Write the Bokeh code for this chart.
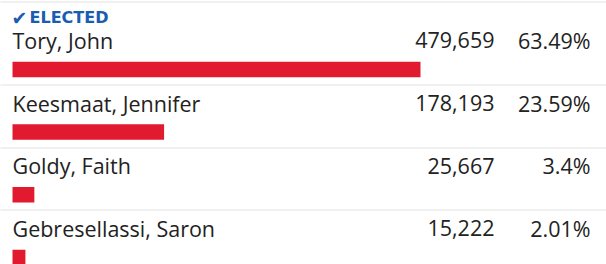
from bokeh.plotting import figure
from bokeh.models import Range1d, ColumnDataSource
from bokeh.core.properties import value
from bokeh.embed import file_html
from bokeh.resources import INLINE

# ---- data ----
candidates = ["Tory, John", "Keesmaat, Jennifer", "Goldy, Faith", "Gebresellassi, Saron"]
votes = [479659, 178193, 25667, 15222]
percents = [63.49, 23.59, 3.4, 2.01]
elected = [True, False, False, False]

vote_labels = [f"{v:,}" for v in votes]
pct_labels = [f"{p:g}%" for p in percents]

# ---- layout ----
W, H = 606, 264
LEFT = 12
PX_PER_PCT = 6.426
ROW_PITCH = 62.65
FIRST_ROW_TOP = 84 - ROW_PITCH
TEXT_SHIFT = -9  # compensate renderer baseline

n = len(candidates)
row_tops = [FIRST_ROW_TOP + i * ROW_PITCH for i in range(n)]
name_y = [t + 27.5 + TEXT_SHIFT for t in row_tops]
bar_y = [t + 47.6 for t in row_tops]
sep_y = [1.5] + [round(t) + 0.5 for t in row_tops[1:]]

p = figure(width=W, height=H, x_range=Range1d(0, W), y_range=Range1d(H, 0),
           output_backend="svg", toolbar_location=None, min_border=0,
           min_border_left=0, min_border_right=0, min_border_top=0, min_border_bottom=0)
p.extra_x_ranges = {"pct": Range1d(-LEFT / PX_PER_PCT, (W - LEFT) / PX_PER_PCT)}
p.axis.visible = False
p.grid.visible = False
p.outline_line_color = None
p.background_fill_color = "white"
p.border_fill_color = "white"

# separators
p.segment(x0=[0] * n, x1=[W] * n, y0=sep_y, y1=sep_y,
          line_color="#c4c4c4", line_width=1, line_dash="1 1")

src = ColumnDataSource(dict(name=candidates, votes=vote_labels, pct=pct_labels,
                            percent=percents, ny=name_y, by=bar_y,
                            zero=[0] * n))

# bars
p.hbar(y="by", left="zero", right="percent", height=15.5, source=src,
       x_range_name="pct", fill_color="#e21a2f", line_color=None)

FONT = value("Open Sans")
FS = "21.5px"
# names
p.text(x=LEFT, y="ny", text="name", source=src, text_font=FONT,
       text_font_size=FS, text_color="#222222", text_baseline="alphabetic",
       text_align="left")
p.text(x=494, y="ny", text="votes", source=src, text_font=FONT,
       text_font_size=FS, text_color="#222222", text_baseline="alphabetic",
       text_align="right")
p.text(x=590, y="ny", text="pct", source=src, text_font=FONT,
       text_font_size=FS, text_color="#222222", text_baseline="alphabetic",
       text_align="right")

# elected label
el_y = [row_tops[i] + 2 + TEXT_SHIFT + 3 for i in range(n) if elected[i]]
p.text(x=[LEFT - 1] * len(el_y), y=el_y, text=["✔"] * len(el_y),
       text_font=value("DejaVu Sans"), text_font_size="19px",
       text_color="#1a5cb0", text_baseline="alphabetic", text_align="left")
p.text(x=[29] * len(el_y), y=el_y, text=["ELECTED"] * len(el_y),
       text_font=value("DejaVu Sans"), text_font_style="bold",
       text_font_size="16px", text_color="#1a5cb0", text_baseline="alphabetic",
       text_align="left")

open("out.html", "w").write(file_html(p, INLINE))
